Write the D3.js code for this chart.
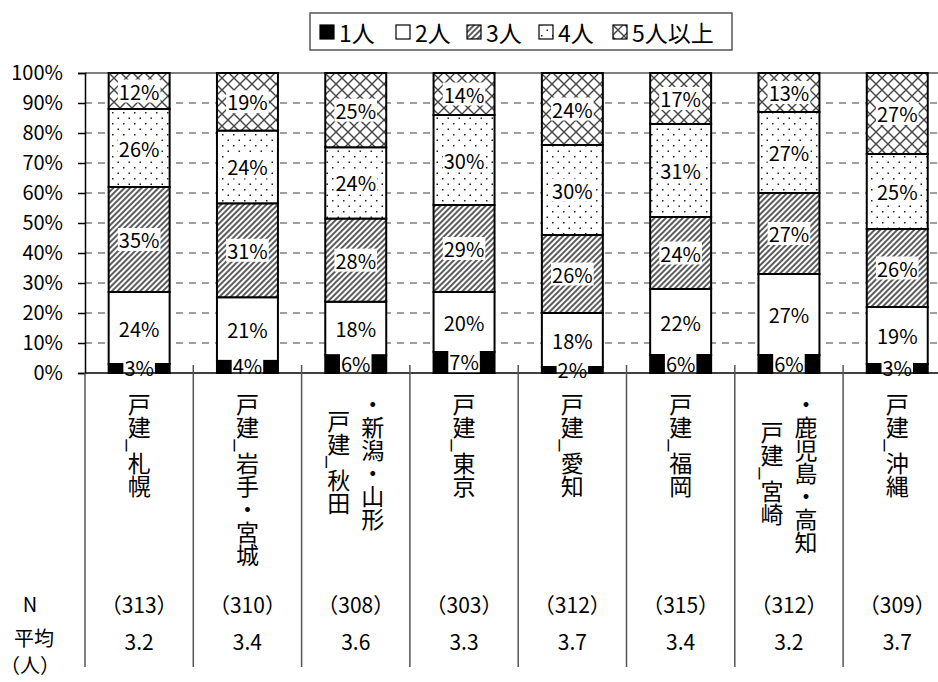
<!doctype html>
<html lang="ja">
<head>
<meta charset="utf-8">
<title></title>
<script src="https://d3js.org/d3.v7.min.js"></script>
<style type="text/css">
  body { margin:0; background:#fff; }
  text { font-family:"Noto Sans CJK JP","Noto Sans",sans-serif; fill:#000; }
</style>
</head>
<body>
<script type="text/javascript">

  // categories ("\n" = second column of the vertical label)
  var categories = ["戸建_札幌", "戸建_岩手・宮城", "戸建_秋田\n・新潟・山形", "戸建_東京",
                    "戸建_愛知", "戸建_福岡", "戸建_宮崎\n・鹿児島・高知", "戸建_沖縄"];
  var seriesNames = ["1人", "2人", "3人", "4人", "5人以上"];

  var one   = [3, 4, 6, 7, 2, 6, 6, 3];
  var two   = [24, 21, 18, 20, 18, 22, 27, 19];
  var three = [35, 31, 28, 29, 26, 24, 27, 26];
  var four  = [26, 24, 24, 30, 30, 31, 27, 25];
  var five  = [12, 19, 25, 14, 24, 17, 13, 27];

  var nValues   = [313, 310, 308, 303, 312, 315, 312, 309];
  var avgValues = [3.2, 3.4, 3.6, 3.3, 3.7, 3.4, 3.2, 3.7];
  var yTicks = [0, 10, 20, 30, 40, 50, 60, 70, 80, 90, 100];

  var W = 938, H = 682;
  var plotLeft = 85, plotTop = 73, plotBottom = 373;
  var step = 108.3;

  var rows = categories.map(function(c, i) {
    return {cat:c, "1人":one[i], "2人":two[i], "3人":three[i], "4人":four[i], "5人以上":five[i]};
  });

  var x = d3.scaleBand()
    .domain(categories)
    .range([plotLeft, plotLeft + step * categories.length])
    .paddingInner(0.437)
    .paddingOuter(0.2185);

  var y = d3.scaleLinear().domain([0, 100]).range([plotBottom, plotTop]);

  var svg = d3.select("body").append("svg")
    .attr("width", W).attr("height", H);

  // patterns
  var defs = svg.append("defs");
  var hatch = defs.append("pattern").attr("id", "hatch")
    .attr("patternUnits", "userSpaceOnUse").attr("width", 4).attr("height", 4)
    .attr("patternTransform", "rotate(45)");
  hatch.append("rect").attr("width", 4).attr("height", 4).attr("fill", "#fff");
  hatch.append("line").attr("x1", 1).attr("y1", 0).attr("x2", 1).attr("y2", 4)
    .attr("stroke", "#333").attr("stroke-width", 1.6);

  var dotPat = defs.append("pattern").attr("id", "dots")
    .attr("patternUnits", "userSpaceOnUse").attr("width", 11).attr("height", 11);
  dotPat.append("rect").attr("width", 11).attr("height", 11).attr("fill", "#fff");
  dotPat.append("rect").attr("x", 2).attr("y", 2).attr("width", 1.5).attr("height", 1.5).attr("fill", "#222");
  dotPat.append("rect").attr("x", 7.5).attr("y", 7.5).attr("width", 1.5).attr("height", 1.5).attr("fill", "#222");

  var cross = defs.append("pattern").attr("id", "cross")
    .attr("patternUnits", "userSpaceOnUse").attr("width", 12).attr("height", 12);
  cross.append("rect").attr("width", 12).attr("height", 12).attr("fill", "#fff");
  cross.append("path").attr("d", "M0,0L12,12M12,0L0,12")
    .attr("stroke", "#444").attr("stroke-width", 1.4).attr("fill", "none");

  var fills = ["#000", "#fff", "url(#hatch)", "url(#dots)", "url(#cross)"];

  // grid lines
  svg.append("g").selectAll("line")
    .data(yTicks.filter(function(d) { return d > 0 && d < 100; }))
    .enter().append("line")
    .attr("x1", plotLeft).attr("x2", plotLeft + step * categories.length)
    .attr("y1", function(d) { return y(d); }).attr("y2", function(d) { return y(d); })
    .attr("stroke", "#808080").attr("stroke-width", 1.5)
    .attr("stroke-dasharray", "7,6");

  svg.append("line")
    .attr("x1", plotLeft).attr("x2", W)
    .attr("y1", y(100)).attr("y2", y(100))
    .attr("stroke", "#808080").attr("stroke-width", 2);

  // stacked bars
  var stack = d3.stack().keys(seriesNames).offset(d3.stackOffsetExpand);
  var layers = stack(rows);

  var bars = svg.append("g");
  layers.forEach(function(layer, k) {
    bars.selectAll(".s" + k)
      .data(layer)
      .enter().append("rect")
      .attr("class", "s" + k)
      .attr("x", function(d) { return x(d.data.cat); })
      .attr("width", x.bandwidth())
      .attr("y", function(d) { return y(d[1] * 100); })
      .attr("height", function(d) { return y(d[0] * 100) - y(d[1] * 100); })
      .attr("fill", fills[k])
      .attr("stroke", "#000").attr("stroke-width", 2);
  });

  // value labels
  var labels = svg.append("g");
  layers.forEach(function(layer, k) {
    layer.forEach(function(d) {
      var cx = x(d.data.cat) + x.bandwidth() / 2;
      var cy = y((d[0] + d[1]) / 2 * 100) - (k === 0 ? 1 : 0);
      var g = labels.append("g");
      var t = g.append("text")
        .attr("x", cx).attr("y", cy)
        .attr("text-anchor", "middle").attr("dominant-baseline", "central")
        .style("font-size", "20px")
        .text(d.data[layer.key] + "%");
      var b = t.node().getBBox();
      g.insert("rect", "text")
        .attr("x", b.x - 1).attr("y", b.y + 3)
        .attr("width", b.width + 2).attr("height", b.height - 6)
        .attr("fill", "#fff");
    });
  });

  // y axis
  var yAxis = d3.axisLeft(y).tickValues(yTicks)
    .tickFormat(function(d) { return d + "%"; })
    .tickSize(7).tickPadding(15);

  var ya = svg.append("g")
    .attr("transform", "translate(" + plotLeft + ",0)")
    .call(yAxis);
  ya.select(".domain").attr("stroke", "#000").attr("stroke-width", 1.5);
  ya.selectAll(".tick line").attr("stroke", "#000").attr("stroke-width", 1.5);
  ya.selectAll(".tick text").style("font-size", "20px")
    .style("font-family", "\"Noto Sans CJK JP\", sans-serif").attr("fill", "#000");

  // x axis line and table separators
  svg.append("line")
    .attr("x1", plotLeft).attr("x2", W)
    .attr("y1", plotBottom).attr("y2", plotBottom)
    .attr("stroke", "#000").attr("stroke-width", 1.5);

  svg.append("g").selectAll("line")
    .data(d3.range(categories.length + 1))
    .enter().append("line")
    .attr("x1", function(i) { return plotLeft + i * step; })
    .attr("x2", function(i) { return plotLeft + i * step; })
    .attr("y1", function(i) { return i === 0 ? plotBottom : plotBottom - 8; })
    .attr("y2", 667)
    .attr("stroke", "#555").attr("stroke-width", 1.5);

  // vertical category labels
  categories.forEach(function(c) {
    var lines = c.split("\n");
    var cx = x(c) + x.bandwidth() / 2;
    var texts = lines.map(function(l, j) {
      var lx = cx + (j - (lines.length - 1) / 2) * 34;
      return svg.append("text")
        .attr("x", lx).attr("y", 393)
        .attr("text-anchor", "middle")
        .style("writing-mode", "vertical-rl")
        .style("font-size", "23px")
        .text(l);
    });
    var maxLen = d3.max(texts, function(t) { return t.node().getComputedTextLength(); });
    texts.forEach(function(t) { t.attr("y", 393 + maxLen / 2); });
  });

  // table rows
  svg.append("text").attr("x", 30).attr("y", 603)
    .attr("text-anchor", "middle").attr("dominant-baseline", "central")
    .style("font-size", "20px").text("N");
  svg.append("text").attr("x", 34).attr("y", 637)
    .attr("text-anchor", "middle").attr("dominant-baseline", "central")
    .style("font-size", "20px").text("平均");
  svg.append("text").attr("x", 30).attr("y", 664)
    .attr("text-anchor", "middle").attr("dominant-baseline", "central")
    .style("font-size", "20px").text("（人）");

  svg.append("g").selectAll("text")
    .data(nValues).enter().append("text")
    .attr("x", function(d, i) { return x(categories[i]) + x.bandwidth() / 2; })
    .attr("y", 604)
    .attr("text-anchor", "middle").attr("dominant-baseline", "central")
    .style("font-size", "21px")
    .text(function(d) { return "（" + d + "）"; });

  svg.append("g").selectAll("text")
    .data(avgValues).enter().append("text")
    .attr("x", function(d, i) { return x(categories[i]) + x.bandwidth() / 2; })
    .attr("y", 641)
    .attr("text-anchor", "middle").attr("dominant-baseline", "central")
    .style("font-size", "21px")
    .text(function(d) { return d.toFixed(1); });

  // legend
  var legend = svg.append("g");
  legend.append("rect")
    .attr("x", 310).attr("y", 13).attr("width", 422).attr("height", 37)
    .attr("fill", "#fff").attr("stroke", "#555").attr("stroke-width", 1.5);
  var legX = [320, 396, 467, 539, 613];
  seriesNames.forEach(function(s, k) {
    legend.append("rect")
      .attr("x", legX[k]).attr("y", 25).attr("width", 14).attr("height", 14)
      .attr("fill", fills[k]).attr("stroke", "#000").attr("stroke-width", 1.2);
    legend.append("text")
      .attr("x", legX[k] + 19).attr("y", 32)
      .attr("dominant-baseline", "central")
      .style("font-size", "23px")
      .text(s);
  });

</script>
</body>
</html>
